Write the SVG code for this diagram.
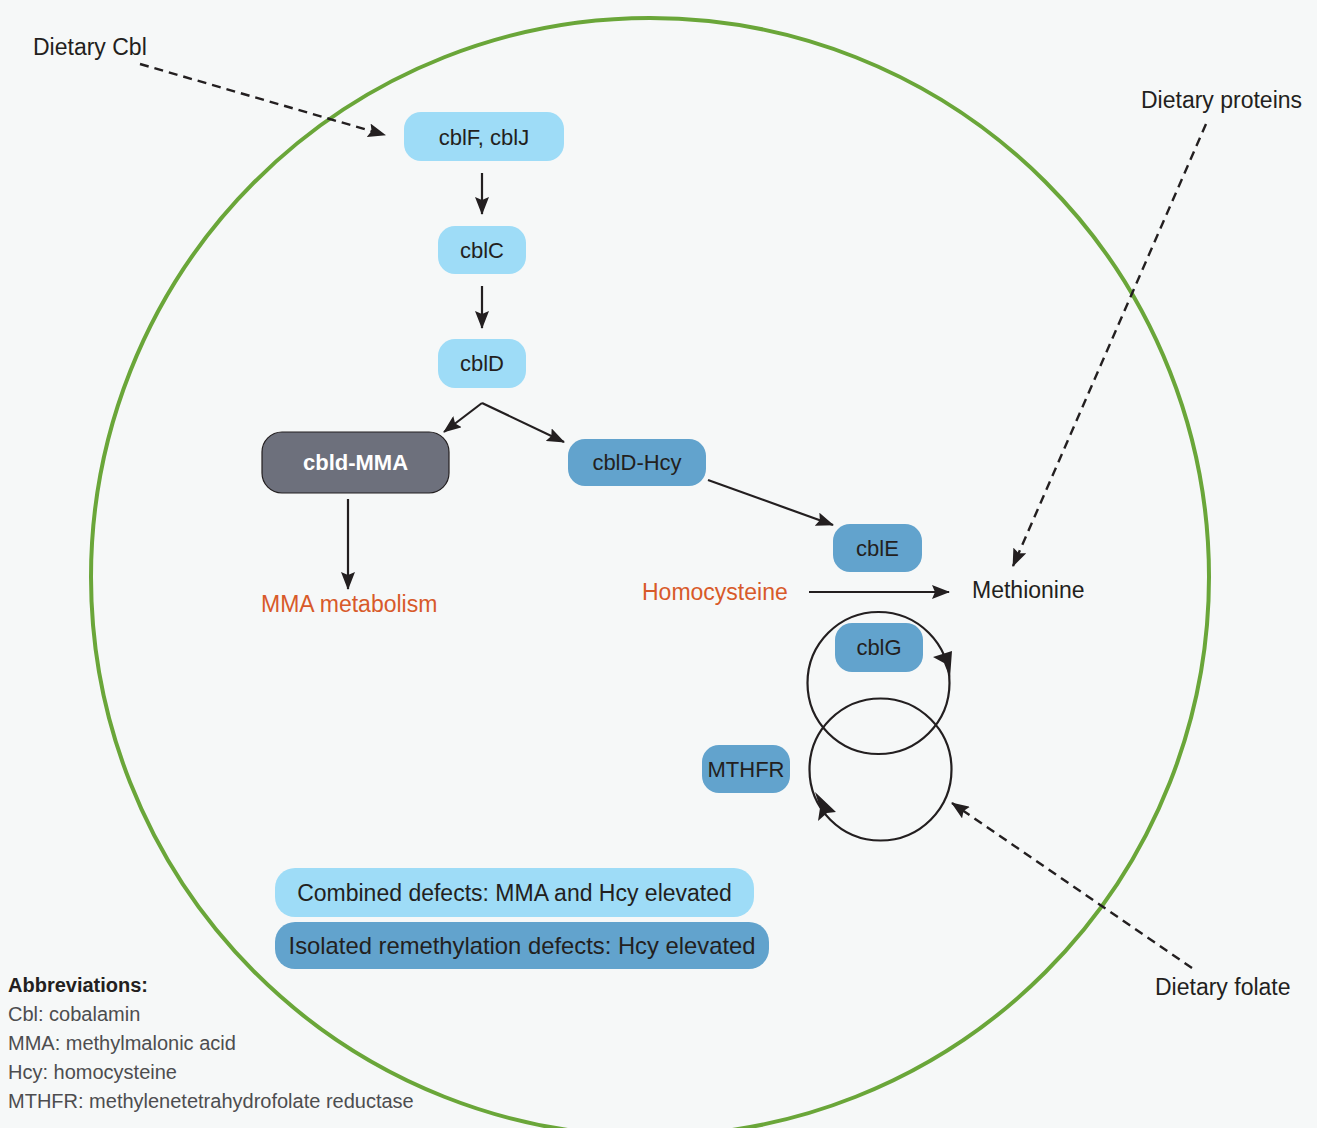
<svg xmlns="http://www.w3.org/2000/svg" width="1317" height="1128" viewBox="0 0 1317 1128">
<defs>
<style>
.t{font-family:"Liberation Sans",Arial,sans-serif;fill:#231f20}
.lbl{font-size:23px}
.nd{font-size:22px;text-anchor:middle}
.org{fill:#d85a2a}
.abbr{font-family:"Liberation Sans",Arial,sans-serif;font-size:20px;fill:#4d4d4f}
.light{fill:#9edcf7}
.mid{fill:#62a3cd}
.ln{stroke:#231f20;stroke-width:2.2;fill:none}
.dash{stroke-dasharray:9 6;stroke-width:2.4}
</style>
<marker id="ah" viewBox="0 0 18 14" refX="17" refY="7" markerWidth="18" markerHeight="14" markerUnits="userSpaceOnUse" orient="auto">
<path d="M0,0 L18,7 L0,14 L3,7 z" fill="#231f20"/>
</marker>
</defs>
<rect x="0" y="0" width="1317" height="1128" fill="#f6f8f8"/>
<g id="cell">
<circle cx="650" cy="577" r="559" fill="none" stroke="#6aa639" stroke-width="4"/>
</g>
<g id="connectors">
<path class="ln dash" d="M140,64 L385,135" marker-end="url(#ah)"/>
<path class="ln" d="M482,173 L482,214" marker-end="url(#ah)"/>
<path class="ln" d="M482,286 L482,328" marker-end="url(#ah)"/>
<path class="ln" d="M482,403 L444,432" marker-end="url(#ah)"/>
<path class="ln" d="M482,403 L564,442" marker-end="url(#ah)"/>
<path class="ln" d="M348,499 L348,589" marker-end="url(#ah)"/>
<path class="ln" d="M708,480 L833,525" marker-end="url(#ah)"/>
<path class="ln" d="M809,592 L949,592" marker-end="url(#ah)"/>
<path class="ln dash" d="M1206,124 L1013,566" marker-end="url(#ah)"/>
<path class="ln dash" d="M1192,968 L952,803" marker-end="url(#ah)"/>
<circle class="ln" cx="878.5" cy="683" r="71" stroke-width="2.5"/>
<circle class="ln" cx="880.5" cy="769.5" r="71" stroke-width="2.5"/>
<polygon points="933,657 952,651 950,678 944,663" fill="#231f20"/>
<polygon points="815,792 836,812 827,813 818,821 820,808" fill="#231f20"/>
</g>
<g id="dietary-cbl"><text class="t lbl" x="33" y="55">Dietary Cbl</text></g>
<g id="dietary-proteins"><text class="t lbl" x="1141" y="108">Dietary proteins</text></g>
<g id="dietary-folate"><text class="t lbl" x="1155" y="995">Dietary folate</text></g>
<g id="methionine"><text class="t lbl" x="972" y="598">Methionine</text></g>
<g id="homocysteine"><text class="t lbl org" x="642" y="600">Homocysteine</text></g>
<g id="mma-metabolism"><text class="t lbl org" x="261" y="612">MMA metabolism</text></g>
<g id="cblFJ"><rect class="light" x="404" y="112" width="160" height="49" rx="17"/><text class="t nd" x="484" y="145">cblF, cblJ</text></g>
<g id="cblC"><rect class="light" x="438" y="226" width="88" height="48" rx="17"/><text class="t nd" x="482" y="258">cblC</text></g>
<g id="cblD"><rect class="light" x="438" y="339" width="88" height="49" rx="17"/><text class="t nd" x="482" y="371">cblD</text></g>
<g id="cbld-MMA"><rect x="262" y="432" width="187" height="61" rx="20" fill="#6d707c" stroke="#231f20" stroke-width="1.2"/><text class="t nd" x="355.5" y="470" style="fill:#ffffff;font-weight:bold">cbld-MMA</text></g>
<g id="cblD-Hcy"><rect class="mid" x="568" y="439" width="138" height="47" rx="17"/><text class="t nd" x="637" y="470">cblD-Hcy</text></g>
<g id="cblE"><rect class="mid" x="833" y="524" width="89" height="48" rx="17"/><text class="t nd" x="877.5" y="556">cblE</text></g>
<g id="cblG"><rect class="mid" x="835" y="623" width="88" height="49" rx="17"/><text class="t nd" x="879" y="655">cblG</text></g>
<g id="MTHFR"><rect class="mid" x="702" y="745" width="88" height="48" rx="17"/><text class="t nd" x="746" y="777">MTHFR</text></g>
<g id="legend-combined"><rect class="light" x="275" y="868" width="479" height="49" rx="20"/><text class="t lbl" x="514.5" y="901" text-anchor="middle">Combined defects: MMA and Hcy elevated</text></g>
<g id="legend-isolated"><rect class="mid" x="275" y="922" width="494" height="47" rx="20"/><text class="t" x="522" y="954" text-anchor="middle" font-size="23.8">Isolated remethylation defects: Hcy elevated</text></g>
<g id="abbreviations">
<text class="abbr" x="8" y="992" font-weight="bold" font-size="19.5" style="fill:#231f20">Abbreviations:</text>
<text class="abbr" x="8" y="1021">Cbl: cobalamin</text>
<text class="abbr" x="8" y="1050">MMA: methylmalonic acid</text>
<text class="abbr" x="8" y="1079">Hcy: homocysteine</text>
<text class="abbr" x="8" y="1108">MTHFR: methylenetetrahydrofolate reductase</text>
</g>
</svg>
